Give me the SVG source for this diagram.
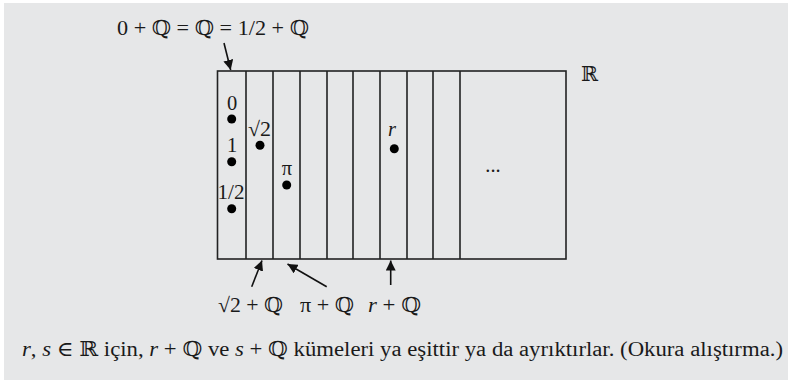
<svg xmlns="http://www.w3.org/2000/svg" width="788" height="380" viewBox="0 0 788 380">
<defs>
<style>
text{font-family:"Liberation Serif","DejaVu Serif",serif;font-size:20.5px;fill:#1a1a1a}
.it{font-style:italic}
.ln{stroke:#222;stroke-width:1.6;fill:none}
.ar{stroke:#111;stroke-width:1.6;fill:none}
.dot{fill:#000}
</style>
<marker id="ah" viewBox="0 0 10 10" refX="10" refY="5" markerWidth="10" markerHeight="10" markerUnits="userSpaceOnUse" orient="auto">
<path d="M0,0 L10,5 L0,10 Z" fill="#111"/>
</marker>
</defs>
<rect x="0" y="0" width="788" height="380" fill="#ffffff"/>
<rect x="4" y="3" width="784" height="377" fill="#e6e7e8"/>

<g id="reals">
<rect class="ln" x="217.5" y="71" width="348.5" height="188"/>
<path class="ln" d="M246,71V259M273,71V259M300,71V259M327,71V259M353,71V259M380,71V259M407,71V259M433,71V259M460,71V259"/>
<text x="581" y="81">ℝ</text>
<text x="493" y="172" text-anchor="middle" font-size="15">...</text>
</g>

<g id="points">
<text x="232" y="110" text-anchor="middle">0</text>
<circle class="dot" cx="231.7" cy="119" r="4.5"/>
<text x="232" y="152" text-anchor="middle">1</text>
<circle class="dot" cx="231.7" cy="161.7" r="4.5"/>
<text x="231" y="199" text-anchor="middle" textLength="27" lengthAdjust="spacingAndGlyphs">1/2</text>
<circle class="dot" cx="231.7" cy="208.7" r="4.5"/>
<text x="248" y="136" textLength="23" lengthAdjust="spacingAndGlyphs">√2</text>
<circle class="dot" cx="260" cy="145.3" r="4.5"/>
<text x="287" y="175" text-anchor="middle">π</text>
<circle class="dot" cx="286.7" cy="185" r="4.5"/>
<text class="it" x="392" y="136" text-anchor="middle">r</text>
<circle class="dot" cx="394.3" cy="148.7" r="4.5"/>
</g>

<g id="label-top">
<text x="117" y="35" textLength="192" lengthAdjust="spacingAndGlyphs">0 + ℚ = ℚ = 1/2 + ℚ</text>
</g>
<g id="label-sqrt2">
<text x="218" y="312" textLength="65" lengthAdjust="spacingAndGlyphs">√2 + ℚ</text>
</g>
<g id="label-pi">
<text x="300" y="312" textLength="54" lengthAdjust="spacingAndGlyphs">π + ℚ</text>
</g>
<g id="label-r">
<text x="368" y="312" textLength="53" lengthAdjust="spacingAndGlyphs"><tspan class="it">r</tspan> + ℚ</text>
</g>

<g id="connectors">
<line class="ar" x1="224" y1="43" x2="230.7" y2="70" marker-end="url(#ah)"/>
<line class="ar" x1="251.7" y1="286.7" x2="262" y2="260.5" marker-end="url(#ah)"/>
<line class="ar" x1="326.7" y1="286.7" x2="287.5" y2="264" marker-end="url(#ah)"/>
<line class="ar" x1="390.7" y1="285" x2="390.7" y2="260.5" marker-end="url(#ah)"/>
</g>

<g id="caption">
<text x="22" y="356" textLength="761" lengthAdjust="spacingAndGlyphs"><tspan class="it">r</tspan>, <tspan class="it">s</tspan> ∈ ℝ için, <tspan class="it">r</tspan> + ℚ ve <tspan class="it">s</tspan> + ℚ kümeleri ya eşittir ya da ayrıktırlar. (Okura alıştırma.)</text>
</g>
</svg>
